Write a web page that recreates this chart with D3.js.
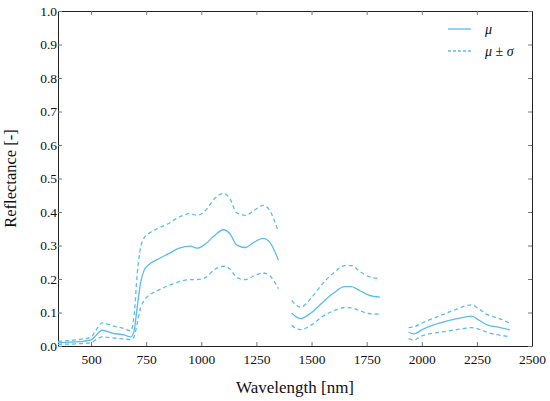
<!DOCTYPE html>
<html>
<head>
<meta charset="utf-8">
<script src="https://cdn.jsdelivr.net/npm/d3@7"></script>
<style>
  body { margin: 0; background: #fff; }
  svg text { font-family: "Liberation Serif", "DejaVu Serif", serif; fill: #111; }
</style>
</head>
<body>
<div id="chart_div"></div>
<script>
// set the dimensions and margins of the graph
var margin = { top: 11, right: 18, bottom: 55, left: 58 },
  width = 550 - margin.left - margin.right,
  height = 401 - margin.top - margin.bottom;

// spectra, split in three bands (water absorption gaps removed)
var wl1 = [350, 450, 500, 520, 550, 600, 650, 680, 695, 710, 725, 740, 760, 800, 850, 900, 950, 980, 1020, 1060, 1100, 1130, 1160, 1200, 1240, 1280, 1310, 1350];
var mean1 = [0.010, 0.013, 0.018, 0.030, 0.047, 0.038, 0.033, 0.027, 0.045, 0.120, 0.190, 0.225, 0.242, 0.258, 0.275, 0.292, 0.298, 0.292, 0.305, 0.330, 0.347, 0.335, 0.302, 0.294, 0.310, 0.321, 0.310, 0.256];
var upper1 = [0.014, 0.020, 0.026, 0.045, 0.069, 0.060, 0.052, 0.045, 0.090, 0.220, 0.295, 0.322, 0.335, 0.350, 0.365, 0.385, 0.395, 0.390, 0.405, 0.440, 0.455, 0.440, 0.398, 0.390, 0.405, 0.420, 0.405, 0.340];
var lower1 = [0.005, 0.007, 0.010, 0.018, 0.027, 0.024, 0.021, 0.019, 0.028, 0.070, 0.115, 0.135, 0.150, 0.165, 0.180, 0.192, 0.198, 0.198, 0.205, 0.228, 0.238, 0.230, 0.205, 0.198, 0.210, 0.218, 0.210, 0.171];

var wl2 = [1410, 1430, 1450, 1500, 1550, 1600, 1650, 1680, 1720, 1760, 1810];
var mean2 = [0.099, 0.087, 0.082, 0.100, 0.130, 0.158, 0.177, 0.177, 0.165, 0.152, 0.146];
var upper2 = [0.136, 0.122, 0.116, 0.145, 0.186, 0.218, 0.240, 0.240, 0.222, 0.207, 0.201];
var lower2 = [0.062, 0.052, 0.049, 0.063, 0.088, 0.105, 0.115, 0.114, 0.105, 0.097, 0.095];

var wl3 = [1940, 1965, 2000, 2050, 2100, 2150, 2200, 2225, 2260, 2300, 2340, 2400];
var mean3 = [0.041, 0.036, 0.048, 0.062, 0.072, 0.080, 0.087, 0.089, 0.077, 0.062, 0.057, 0.048];
var upper3 = [0.055, 0.057, 0.068, 0.082, 0.095, 0.108, 0.120, 0.123, 0.110, 0.093, 0.085, 0.068];
var lower3 = [0.022, 0.018, 0.030, 0.038, 0.043, 0.048, 0.053, 0.055, 0.050, 0.040, 0.034, 0.028];

var xTicks = [500, 750, 1000, 1250, 1500, 1750, 2000, 2250, 2500];
var yTicks = [0, 0.1, 0.2, 0.3, 0.4, 0.5, 0.6, 0.7, 0.8, 0.9, 1.0];

var lineColor = "#5bbdec";

var svg = d3
  .select("#chart_div")
  .append("svg")
  .attr("width", width + margin.left + margin.right)
  .attr("height", height + margin.top + margin.bottom)
  .append("g")
  .attr("transform", "translate(" + margin.left + "," + margin.top + ")");

var x = d3.scaleLinear().domain([350, 2500]).range([0, width]);
var y = d3.scaleLinear().domain([0, 1]).range([height, 0]);

// axes, ticks inward on all four sides
function styleAxis(g) {
  g.attr("font-family", null).attr("font-size", null);
  g.select(".domain").attr("stroke", "#222").attr("stroke-width", 1);
  g.selectAll(".tick line").attr("stroke", "#777");
  g.selectAll(".tick text")
    .style("font-family", "'Liberation Serif', serif")
    .style("font-size", "13.5px")
    .style("fill", "#111");
}

svg.append("g")
  .attr("transform", "translate(0," + height + ")")
  .call(d3.axisBottom(x).tickValues(xTicks).tickSizeInner(-4).tickSizeOuter(0).tickPadding(8).tickFormat(d3.format("d")))
  .call(styleAxis);

svg.append("g")
  .call(d3.axisTop(x).tickValues(xTicks).tickSizeInner(-4).tickSizeOuter(0).tickFormat(""))
  .call(styleAxis);

svg.append("g")
  .call(d3.axisLeft(y).tickValues(yTicks).tickSizeInner(-4).tickSizeOuter(0).tickPadding(1).tickFormat(d3.format(".1f")))
  .call(styleAxis);

svg.append("g")
  .attr("transform", "translate(" + width + ",0)")
  .call(d3.axisRight(y).tickValues(yTicks).tickSizeInner(-4).tickSizeOuter(0).tickFormat(""))
  .call(styleAxis);

// lines
var line = d3.line()
  .x(function(d) { return x(d[0]); })
  .y(function(d) { return y(d[1]); })
  .curve(d3.curveMonotoneX);

var bands = [
  [wl1, mean1, upper1, lower1],
  [wl2, mean2, upper2, lower2],
  [wl3, mean3, upper3, lower3]
];

bands.forEach(function(b) {
  var wl = b[0];
  [b[2], b[3]].forEach(function(vals) {
    svg.append("path")
      .datum(d3.zip(wl, vals))
      .attr("fill", "none")
      .attr("stroke", lineColor)
      .attr("stroke-width", 1.3)
      .attr("stroke-dasharray", "4,3")
      .attr("d", line);
  });
  svg.append("path")
    .datum(d3.zip(wl, b[1]))
    .attr("fill", "none")
    .attr("stroke", lineColor)
    .attr("stroke-width", 1.3)
    .attr("d", line);
});

// legend
var legend = svg.append("g").attr("transform", "translate(" + (width - 84) + ",18)");
legend.append("line").attr("x1", 0).attr("x2", 23).attr("y1", 0).attr("y2", 0)
  .attr("stroke", lineColor).attr("stroke-width", 1.3);
legend.append("text").attr("x", 37).attr("y", 5).attr("font-size", "14px")
  .attr("font-style", "italic").text("μ");
legend.append("line").attr("x1", 0).attr("x2", 23).attr("y1", 22).attr("y2", 22)
  .attr("stroke", lineColor).attr("stroke-width", 1.3).attr("stroke-dasharray", "3,2");
var t2 = legend.append("text").attr("x", 37).attr("y", 27).attr("font-size", "14px");
t2.append("tspan").attr("font-style", "italic").text("μ");
t2.append("tspan").text(" ± ");
t2.append("tspan").attr("font-style", "italic").text("σ");

// axis titles
svg.append("text")
  .attr("x", width / 2)
  .attr("y", height + 47)
  .attr("text-anchor", "middle")
  .attr("font-size", "17px")
  .text("Wavelength [nm]");

svg.append("text")
  .attr("transform", "rotate(-90)")
  .attr("x", -height / 2)
  .attr("y", -42)
  .attr("text-anchor", "middle")
  .attr("font-size", "16.5px")
  .text("Reflectance [-]");
</script>
</body>
</html>
